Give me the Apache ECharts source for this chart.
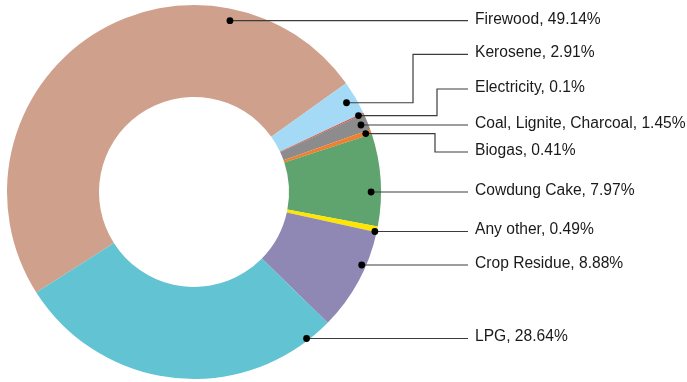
<!DOCTYPE html>
<html>
<head>
<meta charset="utf-8">
<script src="https://cdn.jsdelivr.net/npm/echarts@6/dist/echarts.min.js"></script>
<style>
  html, body { margin: 0; padding: 0; background: #ffffff; }
  #chart { width: 687px; height: 382px; }
</style>
</head>
<body>
<div id="chart"></div>
<script>
// Household cooking fuel shares (%)
const categories = ['Firewood', 'Kerosene', 'Electricity', 'Coal, Lignite, Charcoal', 'Biogas',
                    'Cowdung Cake', 'Any other', 'Crop Residue', 'LPG'];
const shares = [49.14, 2.91, 0.1, 1.45, 0.41, 7.97, 0.49, 8.88, 28.64];
const sliceColours = ['#CFA18C', '#A4DAF5', '#E8352B', '#8C8C8C', '#F07F2E',
                      '#5FA36E', '#FFE600', '#8F88B4', '#62C3D2'];

// Ring geometry and the right-hand label column
const PIE_CENTER = [194, 192];
const PIE_RADIUS = [95, 187];
const START_ANGLE = 212.5;
const LABEL_X = 475;
const LINE_END_X = 468;
const labelRowY = [20.7, 54.3, 89, 125, 152, 192, 231.5, 265, 338.5];
const elbowX = [430, 413, 437, 430, 435, 430, 430, 430, 430];
// How deep into the ring (fraction of outer radius) each leader line starts
const anchorDepth = [0.936, 0.945, 0.97, 0.962, 0.97, 0.947, 0.99, 0.978, 0.988];

const total = shares.reduce((a, b) => a + b, 0);

// Angular extent of slice i (degrees, counter-clockwise from 3 o'clock; slices run clockwise)
function sliceAngles(i) {
  let before = 0;
  for (let k = 0; k < i; k++) before += shares[k];
  const hi = START_ANGLE - before / total * 360;
  const lo = hi - shares[i] / total * 360;
  return [lo, hi];
}

// Leader line for slice i: straight across if its row passes through the slice,
// otherwise out from the slice middle with an elbow up/down to the row.
function leader(i) {
  const cx = PIE_CENTER[0], cy = PIE_CENTER[1], R = PIE_RADIUS[1];
  const rowY = labelRowY[i];
  const [lo, hi] = sliceAngles(i);
  const rr = anchorDepth[i] * R;
  const s = (cy - rowY) / rr;
  if (Math.abs(s) <= 1) {
    const th = Math.asin(s) * 180 / Math.PI;
    if (th >= lo - 1 && th <= hi + 1) {
      const x = cx + Math.sqrt(rr * rr - (cy - rowY) * (cy - rowY));
      return { dot: [x, rowY], points: [[x, rowY], [LINE_END_X, rowY]] };
    }
  }
  const mid = (lo + hi) / 2 * Math.PI / 180;
  const px = cx + rr * Math.cos(mid), py = cy - rr * Math.sin(mid);
  const ex = elbowX[i];
  return { dot: [px, py], points: [[px, py], [ex, py], [ex, rowY], [LINE_END_X, rowY]] };
}

const chart = echarts.init(document.getElementById('chart'), null, { renderer: 'canvas' });

// Leader lines and their anchor dots sit on top of the ring
const leaderGraphics = [];
categories.forEach((_, i) => {
  const l = leader(i);
  leaderGraphics.push({
    type: 'polyline',
    shape: { points: l.points },
    style: { stroke: '#3c3c3c', lineWidth: 1.2, fill: null },
    z: 100
  });
  leaderGraphics.push({
    type: 'circle',
    shape: { cx: l.dot[0], cy: l.dot[1], r: 3.4 },
    style: { fill: '#000000' },
    z: 101
  });
});

chart.setOption({
  animation: false,
  backgroundColor: '#ffffff',
  series: [{
    type: 'pie',
    center: PIE_CENTER,
    radius: PIE_RADIUS,
    startAngle: START_ANGLE,
    clockwise: true,
    avoidLabelOverlap: false,
    itemStyle: { borderWidth: 0 },
    data: categories.map((name, i) => ({
      name: name,
      value: shares[i],
      itemStyle: { color: sliceColours[i] }
    })),
    label: {
      show: true,
      position: 'outside',
      formatter: '{b}, {c}%',
      color: '#1a1a1a',
      fontFamily: '"Liberation Sans", Arial, sans-serif',
      fontSize: 15.6
    },
    labelLine: { show: false },
    labelLayout: function (params) {
      const i = params.dataIndex;
      return {
        x: LABEL_X,
        y: labelRowY[i] - 1.5,
        align: 'left',
        verticalAlign: 'middle'
      };
    },
    emphasis: { disabled: true }
  }],
  graphic: leaderGraphics
});
</script>
</body>
</html>
